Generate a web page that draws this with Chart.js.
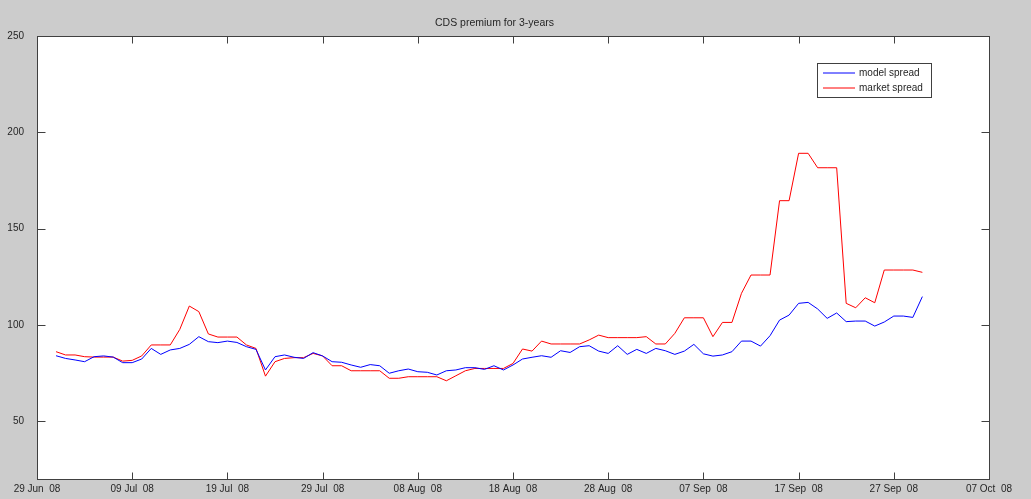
<!DOCTYPE html>
<html>
<head>
<meta charset="utf-8">
<title>CDS premium for 3-years</title>
<script src="https://cdn.jsdelivr.net/npm/chart.js@4.4.1/dist/chart.umd.min.js"></script>
<style>
  html, body { margin: 0; padding: 0; background: #cccccc; }
  canvas { display: block; }
</style>
</head>
<body>
<canvas id="cds" width="1031" height="499"></canvas>
<script>
// daily observations, 01 Jul 08 .. 30 Sep 08
const firstDate = '2008-07-01';
const axisStart = '2008-06-29';
const modelSpread = [
  84.0, 82.6, 81.8, 80.9, 83.5, 83.9, 83.3, 80.4, 80.4, 82.3,
  87.8, 84.7, 87.0, 87.8, 89.9, 93.9, 91.3, 90.8, 91.6, 90.9,
  88.7, 87.3, 76.6, 83.5, 84.4, 83.2, 82.6, 85.6, 83.9, 80.9,
  80.6, 79.2, 78.0, 79.4, 78.8, 74.9, 76.2, 77.1, 75.7, 75.4,
  74.0, 76.2, 76.6, 77.8, 77.8, 76.9, 78.8, 76.6, 79.2, 82.3,
  83.2, 84.0, 83.2, 86.6, 85.7, 88.7, 89.2, 86.4, 85.2, 89.2,
  84.7, 87.3, 85.2, 87.8, 86.6, 84.7, 86.4, 89.9, 85.0, 83.8,
  84.4, 86.1, 91.6, 91.6, 89.0, 94.4, 102.5, 105.1, 111.2, 111.7,
  108.3, 103.4, 106.2, 101.7, 102.0, 102.0, 99.4, 101.5, 104.6, 104.6,
  103.9, 114.7
];
const marketSpread = [
  86.1, 84.4, 84.4, 83.5, 83.3, 83.3, 83.3, 81.2, 81.6, 83.9,
  89.6, 89.6, 89.6, 97.7, 109.8, 106.9, 95.3, 93.7, 93.7, 93.7,
  89.6, 87.8, 73.4, 80.9, 82.6, 83.0, 83.0, 85.2, 83.9, 78.8,
  78.8, 76.2, 76.2, 76.2, 76.2, 72.3, 72.3, 73.1, 73.1, 73.1,
  73.1, 71.0, 73.6, 76.2, 77.4, 77.4, 77.4, 77.4, 80.0, 87.5,
  86.4, 91.6, 90.1, 90.1, 90.1, 90.1, 92.2, 94.7, 93.4, 93.4,
  93.4, 93.4, 93.9, 90.1, 90.1, 95.6, 103.7, 103.7, 103.7, 93.9,
  101.3, 101.3, 116.4, 125.9, 125.9, 125.9, 164.5, 164.5, 189.1, 189.1,
  181.6, 181.6, 181.6, 111.2, 108.9, 114.1, 111.5, 128.5, 128.5, 128.5,
  128.5, 127.3
];
const seriesNames = ['model spread', 'market spread'];
const seriesColors = ['#0000ff', '#ff0000'];
const xTickLabels = ['29 Jun  08','09 Jul  08','19 Jul  08','29 Jul  08','08 Aug  08','18 Aug  08','28 Aug  08','07 Sep  08','17 Sep  08','27 Sep  08','07 Oct  08'];
const yTicks = [50, 100, 150, 200, 250];

const DAY = 86400000;
const t0 = Date.parse(axisStart);
const offset = (Date.parse(firstDate) - t0) / DAY;
const pts = arr => arr.map((v, i) => ({ x: offset + i, y: v }));
const xTicks = xTickLabels.map((_, i) => i * 10);

const FONT = '"Liberation Sans", Arial, sans-serif';
const INK = '#262626';

const matlabAxes = {
  id: 'matlabAxes',
  beforeDraw(chart) {
    const { ctx, chartArea: a } = chart;
    ctx.save();
    ctx.fillStyle = '#cccccc';
    ctx.fillRect(0, 0, chart.width, chart.height);
    ctx.fillStyle = '#ffffff';
    ctx.fillRect(a.left, a.top, a.right - a.left, a.bottom - a.top);
    ctx.restore();
  },
  afterDraw(chart) {
    const { ctx, chartArea: a, scales } = chart;
    const L = Math.round(a.left) + 0.5, R = Math.round(a.right) + 0.5;
    const T = Math.round(a.top) + 0.5, B = Math.round(a.bottom) + 0.5;
    ctx.save();
    ctx.strokeStyle = '#404040';
    ctx.lineWidth = 1;
    ctx.strokeRect(L, T, R - L, B - T);
    ctx.beginPath();
    scales.x.ticks.forEach(t => {
      const px = Math.round(scales.x.getPixelForValue(t.value)) + 0.5;
      ctx.moveTo(px, B); ctx.lineTo(px, B - 7);
      ctx.moveTo(px, T); ctx.lineTo(px, T + 7);
    });
    scales.y.ticks.forEach(t => {
      const py = Math.round(scales.y.getPixelForValue(t.value)) + 0.5;
      ctx.moveTo(L, py); ctx.lineTo(L + 8, py);
      ctx.moveTo(R, py); ctx.lineTo(R - 8, py);
    });
    ctx.stroke();

    // date labels under the axis
    ctx.font = '10px ' + FONT;
    ctx.fillStyle = INK;
    ctx.textAlign = 'center';
    ctx.textBaseline = 'middle';
    scales.x.ticks.forEach((t, i) => {
      ctx.fillText(xTickLabels[i], scales.x.getPixelForValue(t.value), 489);
    });

    // legend box, top right inside axes
    const bx = 817.5, by = 63.5, bw = 114, bh = 34;
    ctx.fillStyle = '#ffffff';
    ctx.fillRect(bx, by, bw, bh);
    ctx.strokeStyle = '#404040';
    ctx.strokeRect(bx, by, bw, bh);
    ctx.textAlign = 'left';
    chart.data.datasets.forEach((ds, i) => {
      const y = 73 + i * 15;
      ctx.beginPath();
      ctx.strokeStyle = seriesColors[i];
      ctx.moveTo(823, y); ctx.lineTo(855, y);
      ctx.stroke();
      ctx.fillStyle = INK;
      ctx.fillText(ds.label, 859, y + 0.5);
    });
    ctx.restore();
  }
};

new Chart(document.getElementById('cds'), {
  type: 'line',
  data: {
    datasets: [
      { label: seriesNames[0], data: pts(modelSpread), borderColor: seriesColors[0], borderWidth: 1, pointRadius: 0, tension: 0, fill: false },
      { label: seriesNames[1], data: pts(marketSpread), borderColor: seriesColors[1], borderWidth: 1, pointRadius: 0, tension: 0, fill: false }
    ]
  },
  options: {
    responsive: false,
    animation: false,
    layout: { padding: { left: 0, right: 42, top: 0, bottom: 0 } },
    plugins: {
      legend: { display: false },
      tooltip: { enabled: false },
      title: { display: true, text: 'CDS premium for 3-years', color: INK, font: { family: FONT, size: 10.5, weight: 'normal' }, padding: { top: 17, bottom: 6.4 } }
    },
    scales: {
      x: {
        type: 'linear', min: 0, max: 100,
        grid: { display: false }, border: { display: false },
        afterBuildTicks: s => { s.ticks = xTicks.map(v => ({ value: v })); },
        afterFit: s => { s.height = 20; },
        ticks: { display: false }
      },
      y: {
        min: 20, max: 250,
        grid: { display: false }, border: { display: false },
        afterBuildTicks: s => { s.ticks = yTicks.map(v => ({ value: v })); },
        afterFit: s => { s.width = 37; },
        ticks: { padding: 5, color: INK, font: { family: FONT, size: 10 } }
      }
    }
  },
  plugins: [matlabAxes]
});
</script>
</body>
</html>
